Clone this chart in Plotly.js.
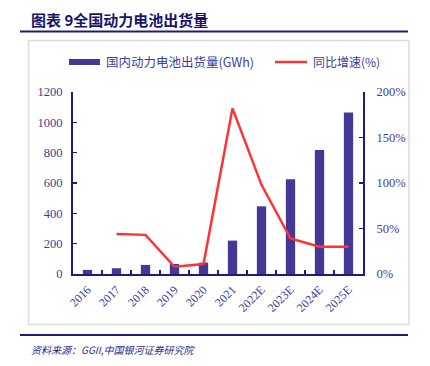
<!DOCTYPE html>
<html><head><meta charset="utf-8">
<script src="https://cdn.plot.ly/plotly-3.0.1.min.js"></script>
<style>html,body{margin:0;padding:0;background:#fff;}#chart{width:430px;height:366px;}</style>
</head><body><div id="chart"></div>
<script>
var categories = ["2016","2017","2018","2019","2020","2021","2022E","2023E","2024E","2025E"];
var shipments = [27, 38, 60, 66, 75, 220, 446, 625, 817, 1065];
var growthCats = ["2017","2018","2019","2020","2021","2022E","2023E","2024E","2025E"];
var growth = [44, 43, 8, 11, 182, 98, 39, 30, 30];
var seriesNames = ["国内动力电池出货量(GWh)", "同比增速(%)"];
var titleText = "图表 9全国动力电池出货量";
var sourceText = "资料来源：GGII,中国银河证券研究院";

var L = 73, R = 363, T = 92, B = 274;
function px(x){ return (x - L) / (R - L); }
function py(y){ return (B - y) / (B - T); }

var navy = "#1c1c80";
var tickCol = "#3d3d9c";
var barCol = "#433896";
var lineCol = "#ff3333";
var serif = "'Liberation Serif', 'Times New Roman', serif";
var cjk = "'Noto Sans CJK SC', sans-serif";

var traces = [
  {type:"bar", x:categories, y:shipments, name:seriesNames[0], marker:{color:barCol}, yaxis:"y"},
  {type:"scatter", mode:"lines", x:growthCats, y:growth, name:seriesNames[1], line:{color:lineCol, width:2.5}, yaxis:"y2"}
];

var layout = {
  width:430, height:366,
  margin:{l:L, r:430-R, t:T, b:366-B, pad:0},
  paper_bgcolor:"#fff", plot_bgcolor:"rgba(0,0,0,0)",
  showlegend:false,
  bargap:0.68,
  xaxis:{type:"category", categoryorder:"array", categoryarray:categories, range:[-0.5,9.5],
    showline:true, linecolor:navy, linewidth:2, ticks:"inside", tickson:"boundaries", ticklen:4, tickcolor:navy, tickwidth:1.5,
    tickangle:-45, tickfont:{family:serif, size:12, color:tickCol}, showgrid:false, zeroline:false, fixedrange:true, ticklabelstandoff:2},
  yaxis:{range:[0,1200], dtick:200, showline:true, linecolor:navy, linewidth:2, ticks:"inside", ticklen:4, tickcolor:navy, tickwidth:1.5,
    tickfont:{family:serif, size:12.5, color:tickCol}, showgrid:false, zeroline:false, ticklabelstandoff:6},
  yaxis2:{range:[0,200], dtick:50, ticksuffix:"%", overlaying:"y", side:"right", showline:true, linecolor:navy, linewidth:2,
    ticks:"inside", ticklen:4, tickcolor:navy, tickwidth:1.5, tickfont:{family:serif, size:12.5, color:tickCol},
    showgrid:false, zeroline:false, ticklabelstandoff:9},
  shapes:[
    {type:"line", xref:"paper", yref:"paper", x0:px(20), x1:px(408), y0:py(31.5), y1:py(31.5), line:{color:navy, width:2}},
    {type:"rect", xref:"paper", yref:"paper", x0:px(28.5), x1:px(409), y0:py(40.5), y1:py(324.5), line:{color:"#dcdcdc", width:1.5}},
    {type:"line", xref:"paper", yref:"paper", x0:px(20), x1:px(408), y0:py(335), y1:py(335), line:{color:navy, width:2}},
    {type:"rect", xref:"paper", yref:"paper", x0:px(69), x1:px(100), y0:py(59), y1:py(65), fillcolor:barCol, line:{width:0}},
    {type:"line", xref:"paper", yref:"paper", x0:px(275), x1:px(307), y0:py(62), y1:py(62), line:{color:lineCol, width:2.5}}
  ],
  annotations:[
    {xref:"paper", yref:"paper", x:px(29), y:py(19), xanchor:"left", yanchor:"middle", showarrow:false,
      text:"<b>"+titleText+"</b>", font:{family:cjk, size:15, color:"#15156a"}},
    {xref:"paper", yref:"paper", x:px(104), y:py(62), xanchor:"left", yanchor:"middle", showarrow:false,
      text:seriesNames[0], font:{family:cjk, size:12.5, color:tickCol}},
    {xref:"paper", yref:"paper", x:px(311), y:py(62), xanchor:"left", yanchor:"middle", showarrow:false,
      text:seriesNames[1], font:{family:cjk, size:12, color:tickCol}},
    {xref:"paper", yref:"paper", x:px(29), y:py(349), xanchor:"left", yanchor:"middle", showarrow:false,
      text:"<i>"+sourceText+"</i>", font:{family:cjk, size:10, color:"#2a2a8a"}}
  ]
};
Plotly.newPlot("chart", traces, layout, {displayModeBar:false, staticPlot:true});
</script></body></html>
